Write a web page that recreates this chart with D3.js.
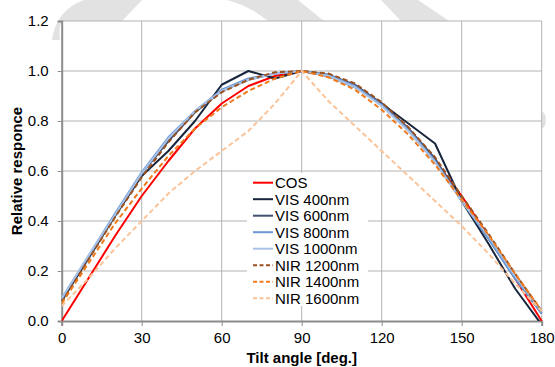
<!DOCTYPE html>
<html>
<head>
<meta charset="utf-8">
<script src="https://cdn.jsdelivr.net/npm/d3@7/dist/d3.min.js"></script>
<style>
  body { margin: 0; background: #fff; }
  svg { display: block; font-family: Arial, "Liberation Sans", sans-serif; }
</style>
</head>
<body>
<svg id="chart" width="555" height="367"></svg>
<script>
// tilt angles (deg) and relative responses
const angles  = [0, 10, 20, 30, 40, 50, 60, 70, 80, 90, 100, 110, 120, 130, 140, 150, 160, 170, 180];
const cosResp = [0, 0.17, 0.34, 0.50, 0.64, 0.77, 0.87, 0.94, 0.98, 1.00, 0.98, 0.94, 0.87, 0.77, 0.64, 0.50, 0.34, 0.17, 0.00];
const vis400  = [0.08, 0.25, 0.42, 0.58, 0.68, 0.80, 0.945, 1.00, 0.97, 1.00, 0.98, 0.935, 0.87, 0.79, 0.71, 0.48, 0.31, 0.13, -0.015];
const vis600  = [0.085, 0.255, 0.425, 0.59, 0.72, 0.835, 0.92, 0.965, 0.99, 1.00, 0.985, 0.945, 0.87, 0.77, 0.65, 0.48, 0.33, 0.17, 0.03];
const vis800  = [0.09, 0.26, 0.43, 0.595, 0.735, 0.84, 0.925, 0.97, 0.99, 1.00, 0.985, 0.94, 0.865, 0.765, 0.64, 0.48, 0.33, 0.17, 0.03];
const vis1000 = [0.09, 0.26, 0.425, 0.59, 0.73, 0.84, 0.92, 0.965, 0.99, 1.00, 0.98, 0.935, 0.86, 0.76, 0.635, 0.48, 0.34, 0.18, 0.04];
const nir1200 = [0.075, 0.245, 0.415, 0.575, 0.715, 0.835, 0.915, 0.965, 0.995, 1.00, 0.99, 0.95, 0.875, 0.775, 0.655, 0.50, 0.35, 0.19, 0.04];
const nir1400 = [0.07, 0.23, 0.39, 0.53, 0.66, 0.77, 0.855, 0.92, 0.97, 1.00, 0.975, 0.925, 0.845, 0.745, 0.625, 0.485, 0.345, 0.19, 0.04];
const nir1600 = [0.06, 0.17, 0.29, 0.40, 0.51, 0.60, 0.68, 0.76, 0.87, 1.00, 0.88, 0.78, 0.68, 0.58, 0.48, 0.38, 0.27, 0.15, 0.04];

const seriesNames = ["COS", "VIS 400nm", "VIS 600nm", "VIS 800nm", "VIS 1000nm", "NIR 1200nm", "NIR 1400nm", "NIR 1600nm"];
const xTicks = [0, 30, 60, 90, 120, 150, 180];
const yTicks = [0, 0.2, 0.4, 0.6, 0.8, 1.0, 1.2];

const series = [
  { name: seriesNames[0], values: cosResp, color: "#ff0000", dash: null },
  { name: seriesNames[1], values: vis400,  color: "#17253d", dash: null },
  { name: seriesNames[2], values: vis600,  color: "#3f5070", dash: null },
  { name: seriesNames[3], values: vis800,  color: "#6a98d6", dash: null },
  { name: seriesNames[4], values: vis1000, color: "#a9c2e6", dash: null },
  { name: seriesNames[5], values: nir1200, color: "#9a5220", dash: "5,3" },
  { name: seriesNames[6], values: nir1400, color: "#ef7a1c", dash: "5,3" },
  { name: seriesNames[7], values: nir1600, color: "#fbc397", dash: "5,3" }
];

const svg = d3.select("#chart");
const W = 555, H = 367;
const m = { left: 61.7, right: 13.3, top: 21, bottom: 46 };

const x = d3.scaleLinear().domain([0, 180]).range([m.left, W - m.right]);
const y = d3.scaleLinear().domain([0, 1.2]).range([H - m.bottom, m.top]);

// faint watermark behind the chart
const wm = svg.append("g").attr("fill", "#e2e2e2");
wm.append("path").attr("d", "M52,40 Q56,10 84,0 L142,0 L122,21 L62,21 Q58,28 60,40 Z");
wm.append("path").attr("d", "M227,0 L298,0 L324,21 L268,21 Q250,6 227,0 Z");
wm.append("path").attr("d", "M381,0 L418,0 L449,21 L401,21 Z");
wm.append("ellipse").attr("cx", 542).attr("cy", 120).attr("rx", 4).attr("ry", 8);

// plot area
svg.append("rect")
  .attr("x", x(0)).attr("y", y(1.2))
  .attr("width", x(180) - x(0)).attr("height", y(0) - y(1.2))
  .attr("fill", "#fff");

// grid
svg.append("g").selectAll("line").data(yTicks.filter(d => d > 0)).join("line")
  .attr("x1", x(0)).attr("x2", x(180))
  .attr("y1", d => y(d)).attr("y2", d => y(d))
  .attr("stroke", "#b3b3b3").attr("stroke-width", 1);
svg.append("g").selectAll("line").data(xTicks.filter(d => d > 0)).join("line")
  .attr("x1", d => x(d)).attr("x2", d => x(d))
  .attr("y1", y(0)).attr("y2", y(1.2))
  .attr("stroke", "#b3b3b3").attr("stroke-width", 1);

// axes
const xAxis = svg.append("g")
  .attr("transform", `translate(0,${y(0)})`)
  .call(d3.axisBottom(x).tickValues(xTicks).tickSize(5).tickPadding(6).tickFormat(d3.format("d")));
const yAxis = svg.append("g")
  .attr("transform", `translate(${x(0)},0)`)
  .call(d3.axisLeft(y).tickValues(yTicks).tickSize(4).tickPadding(9).tickFormat(d3.format(".1f")));

[xAxis, yAxis].forEach(a => {
  a.select(".domain").attr("stroke", "#8c8c8c").attr("stroke-width", 2);
  a.selectAll(".tick line").attr("stroke", "#8c8c8c");
  a.selectAll("text").attr("font-size", 15).attr("fill", "#000")
    .attr("font-family", "Arial, 'Liberation Sans', sans-serif");
});

// lines
svg.append("clipPath").attr("id", "plotClip").append("rect")
  .attr("x", x(0)).attr("y", y(1.2) - 2)
  .attr("width", x(180) - x(0) + 2).attr("height", y(0) - y(1.2) + 2);

const line = d3.line().x((d, i) => x(angles[i])).y(d => y(d));

const lines = svg.append("g").attr("clip-path", "url(#plotClip)");
lines.selectAll("path").data(series).join("path")
  .attr("d", d => line(d.values))
  .attr("fill", "none")
  .attr("stroke", d => d.color)
  .attr("stroke-width", 2)
  .attr("stroke-dasharray", d => d.dash)
  .attr("stroke-linejoin", "round");

// legend
const lg = svg.append("g").attr("transform", "translate(247,173)");
lg.append("rect").attr("width", 121).attr("height", 133).attr("fill", "#fff");
const rows = lg.selectAll("g").data(series).join("g")
  .attr("transform", (d, i) => `translate(0,${9.7 + i * 16.5})`);
rows.append("line")
  .attr("x1", 6).attr("x2", 26)
  .attr("stroke", d => d.color).attr("stroke-width", 2)
  .attr("stroke-dasharray", d => d.dash ? "4,2.5" : null);
rows.append("text")
  .attr("x", 28).attr("y", 5.5)
  .attr("font-size", 15)
  .text(d => d.name);

// axis titles
svg.append("text")
  .attr("x", x(90)).attr("y", 363)
  .attr("text-anchor", "middle")
  .attr("font-size", 15).attr("font-weight", "bold")
  .text("Tilt angle [deg.]");
svg.append("text")
  .attr("transform", `translate(22,${(y(0) + y(1.2)) / 2}) rotate(-90)`)
  .attr("text-anchor", "middle")
  .attr("font-size", 15).attr("font-weight", "bold")
  .text("Relative responce");
</script>
</body>
</html>
